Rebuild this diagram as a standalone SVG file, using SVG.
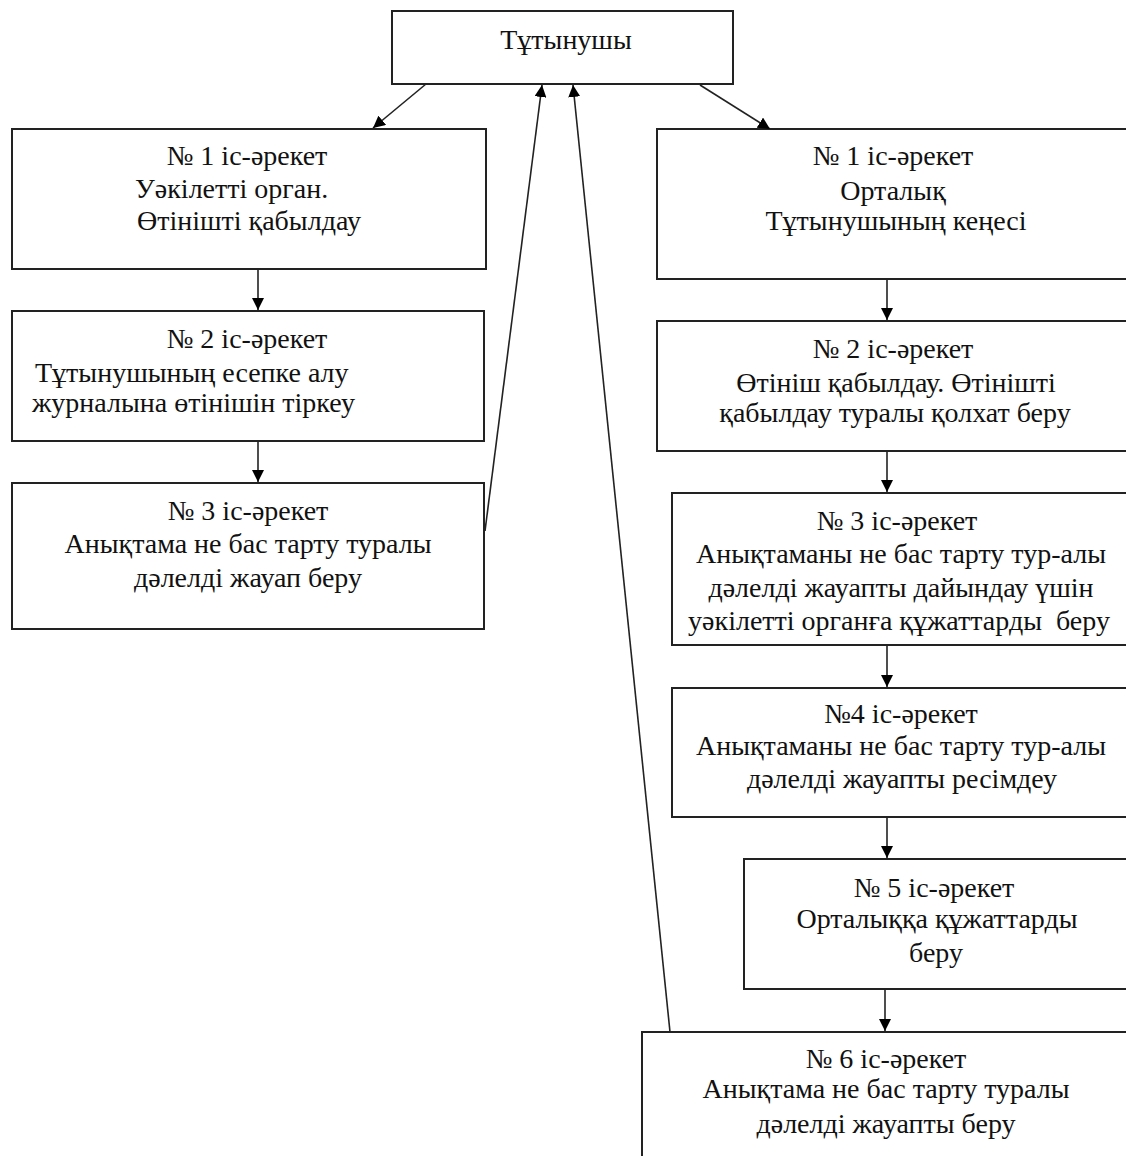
<svg xmlns="http://www.w3.org/2000/svg" width="1126" height="1156" viewBox="0 0 1126 1156">
<defs>
<marker id="ah" markerWidth="12" markerHeight="12" refX="12" refY="6" orient="auto" markerUnits="userSpaceOnUse">
<path d="M0,0 L12,6 L0,12 Z" fill="#000"/>
</marker>
<style>
.box{fill:#fff;stroke:#222;stroke-width:2}
.t{font-family:"Liberation Serif","Times New Roman",serif;font-size:28px;fill:#111}
.c{text-anchor:middle}
.ln{stroke:#222;stroke-width:1.6;fill:none;marker-end:url(#ah)}
</style>
</defs>
<rect width="1126" height="1156" fill="#fff"/>
<g id="n0">
<rect class="box" x="392" y="11" width="341" height="73"/>
<text class="t c" x="566" y="49">Тұтынушы</text>
</g>
<g id="l1">
<rect class="box" x="12" y="129" width="474" height="140"/>
<text class="t c" x="247" y="165">№ 1 іс-әрекет</text>
<text class="t" x="135" y="198">Уәкілетті орган.</text>
<text class="t" x="137" y="230">Өтінішті қабылдау</text>
</g>
<g id="l2">
<rect class="box" x="12" y="311" width="472" height="130"/>
<text class="t c" x="247" y="348">№ 2 іс-әрекет</text>
<text class="t" x="35" y="382">Тұтынушының есепке алу</text>
<text class="t" x="32" y="412">журналына өтінішін тіркеу</text>
</g>
<g id="l3">
<rect class="box" x="12" y="483" width="472" height="146"/>
<text class="t c" x="248" y="520">№ 3 іс-әрекет</text>
<text class="t c" x="248" y="553">Анықтама не бас тарту туралы</text>
<text class="t c" x="248" y="587">дәлелді жауап беру</text>
</g>
<g id="r1">
<rect class="box" x="657" y="129" width="480" height="150"/>
<text class="t c" x="893" y="165">№ 1 іс-әрекет</text>
<text class="t c" x="893" y="200">Орталық</text>
<text class="t c" x="896" y="230">Тұтынушының кеңесі</text>
</g>
<g id="r2">
<rect class="box" x="657" y="321" width="480" height="130"/>
<text class="t c" x="893" y="358">№ 2 іс-әрекет</text>
<text class="t c" x="896" y="392">Өтініш қабылдау. Өтінішті</text>
<text class="t c" x="895" y="422">қабылдау туралы қолхат беру</text>
</g>
<g id="r3">
<rect class="box" x="672" y="493" width="465" height="152"/>
<text class="t c" x="897" y="530">№ 3 іс-әрекет</text>
<text class="t c" x="901" y="563">Анықтаманы не бас тарту тур-алы</text>
<text class="t c" x="901" y="597">дәлелді жауапты дайындау үшін</text>
<text class="t c" x="899" y="630" xml:space="preserve">уәкілетті органға құжаттарды  беру</text>
</g>
<g id="r4">
<rect class="box" x="672" y="688" width="465" height="129"/>
<text class="t c" x="901" y="723">№4 іс-әрекет</text>
<text class="t c" x="901" y="755">Анықтаманы не бас тарту тур-алы</text>
<text class="t c" x="902" y="788">дәлелді жауапты ресімдеу</text>
</g>
<g id="r5">
<rect class="box" x="744" y="859" width="393" height="130"/>
<text class="t c" x="934" y="897">№ 5 іс-әрекет</text>
<text class="t c" x="937" y="928">Орталыққа құжаттарды</text>
<text class="t c" x="936" y="962">беру</text>
</g>
<g id="r6">
<rect class="box" x="642" y="1032" width="495" height="140"/>
<text class="t c" x="886" y="1068">№ 6 іс-әрекет</text>
<text class="t c" x="886" y="1098">Анықтама не бас тарту туралы</text>
<text class="t c" x="886" y="1133">дәлелді жауапты беру</text>
</g>
<g id="connectors">
<line class="ln" x1="426" y1="84" x2="373" y2="128"/>
<line class="ln" x1="700" y1="85" x2="770" y2="129"/>
<line class="ln" x1="485" y1="531" x2="542" y2="85"/>
<line class="ln" x1="670" y1="1032" x2="573" y2="85"/>
<line class="ln" x1="258" y1="269" x2="258" y2="310"/>
<line class="ln" x1="258" y1="441" x2="258" y2="482"/>
<line class="ln" x1="887" y1="279" x2="887" y2="320"/>
<line class="ln" x1="887" y1="451" x2="887" y2="492"/>
<line class="ln" x1="887" y1="645" x2="887" y2="687"/>
<line class="ln" x1="887" y1="817" x2="887" y2="858"/>
<line class="ln" x1="885" y1="989" x2="885" y2="1031"/>
</g>
</svg>
